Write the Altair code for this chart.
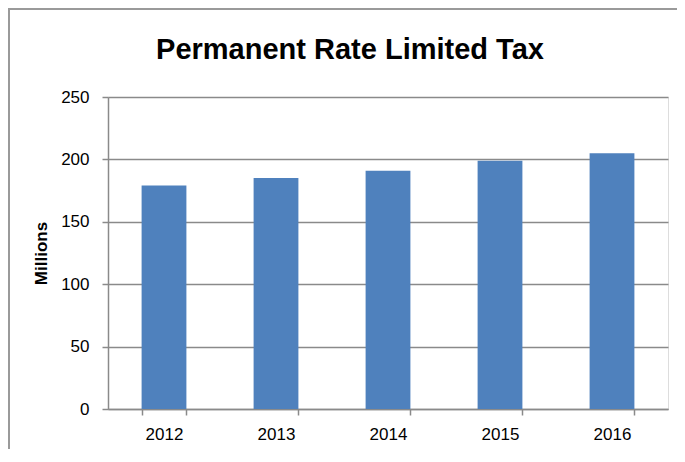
import altair as alt
import pandas as pd

years = ["2012", "2013", "2014", "2015", "2016"]
values = [179, 185, 191, 199, 205]

df = pd.DataFrame({"year": years, "value": values})

FONT = "Liberation Sans, Arial, sans-serif"

bars = alt.Chart(df).mark_bar(color="#4F81BD").encode(
    x=alt.X("year:N", sort=years,
            scale=alt.Scale(paddingInner=0.6, paddingOuter=0.3),
            axis=alt.Axis(title=None, labelAngle=0, tickBand="extent",
                          tickSize=6, labelPadding=11, labelFontSize=17,
                          labelFont=FONT, labelColor="#000000",
                          domainColor="#8a8a8a", tickColor="#8a8a8a",
                          domainWidth=1.5, tickWidth=1.5, grid=False)),
    y=alt.Y("value:Q",
            scale=alt.Scale(domain=[0, 250], nice=False),
            axis=alt.Axis(title="Millions", values=[0, 50, 100, 150, 200, 250],
                          tickSize=6, labelPadding=13, labelFontSize=17,
                          labelFont=FONT, labelColor="#000000",
                          titleFont=FONT, titleFontSize=17, titleFontWeight="bold",
                          titleColor="#000000", titlePadding=10,
                          domainColor="#8a8a8a", tickColor="#8a8a8a",
                          gridColor="#8a8a8a", domainWidth=1.5, tickWidth=1.5,
                          gridWidth=1.5)),
)

frame = alt.Chart(pd.DataFrame({"k": [0]})).mark_rect(
    fill=None, stroke="#9a9a9a", strokeWidth=2, clip=False
).encode(
    x=alt.value(-99), x2=alt.value(640), y=alt.value(-88), y2=alt.value(420)
)

chart = alt.layer(frame, bars).properties(
    width=560, height=312,
    title=alt.TitleParams("Permanent Rate Limited Tax", font=FONT, fontSize=29,
                          fontWeight="bold", color="#000000", anchor="middle",
                          frame="group", dx=-38, offset=-80, baseline="alphabetic"),
    autosize=alt.AutoSizeParams(type="none"),
    padding={"left": 100, "top": 89, "right": 9, "bottom": 40},
).configure_view(stroke=None).configure(background="white")

chart.save("out.html", embed_options={"renderer": "svg", "actions": False})
